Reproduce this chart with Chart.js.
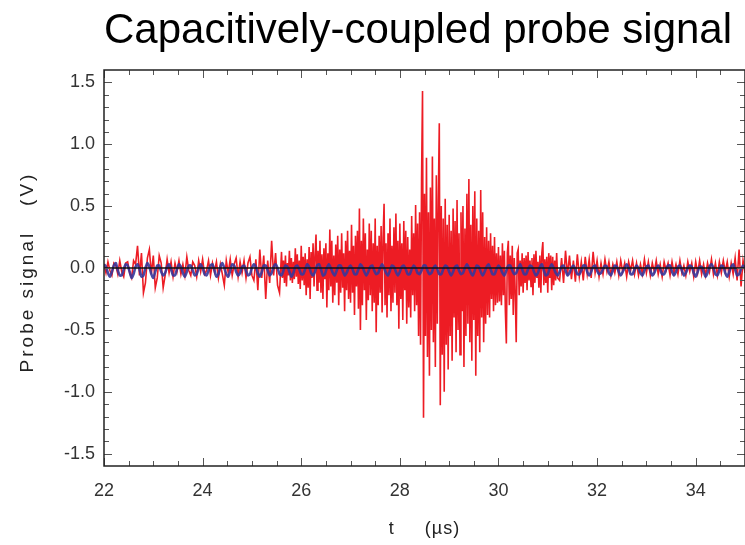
<!DOCTYPE html>
<html>
<head>
<meta charset="utf-8">
<script src="https://cdn.jsdelivr.net/npm/chart.js@4.4.1/dist/chart.umd.min.js"></script>
<style>
  html, body { margin: 0; padding: 0; background: #fff; }
  #wrap { width: 745px; height: 545px; }
</style>
</head>
<body>
<div id="wrap"><canvas id="probe-chart" width="745" height="545"></canvas></div>
<script>
// sample grids of the scope trace (µs)
const COARSE_STEP = 0.04;
const FINE_STEP = 0.02;
const LEFT_START = 22;     // quiet part before the burst
const BURST_START = 25.6;  // burst, sampled finer
const RIGHT_START = 31.24; // quiet part after the burst

const xTicks = [22, 24, 26, 28, 30, 32, 34];
const yTicks = [-1.5, -1.0, -0.5, 0.0, 0.5, 1.0, 1.5];

// raw probe signal (V)
const probeLeft = [
  0.03, -0.04, 0.05, -0.02, -0.06, 0.04, 0.02, -0.05, 0.06, -0.03,
  -0.07, 0.04, 0.05, -0.04, -0.08, 0.06, 0.03, 0.18, -0.06, 0.12,
  -0.20, -0.12, 0.08, 0.15, -0.05, 0.10, -0.16, -0.08, 0.10, 0.04,
  -0.16, -0.06, 0.07, -0.04, 0.05, -0.07, 0.04, -0.03, 0.06, -0.05,
  0.03, -0.06, 0.09, -0.02, -0.06, 0.05, 0.02, -0.07, 0.06, -0.03,
  0.07, -0.05, -0.02, 0.06, -0.06, 0.04, -0.03, 0.05, -0.08, 0.03,
  -0.05, -0.14, 0.06, -0.04, 0.07, -0.06, 0.03, 0.08, -0.07, 0.05,
  -0.04, 0.06, -0.08, 0.04, 0.09, -0.06, -0.10, 0.07, -0.18, 0.15,
  -0.08, 0.10, -0.25, 0.06, -0.12, 0.22, -0.06, 0.12, -0.14, -0.20
];

const probeBurst = [
  0.13, -0.08, 0.06, -0.12, 0.10, -0.15, 0.04, -0.06, 0.14, -0.10,
  0.08, -0.12, 0.05, -0.09, 0.16, -0.07, 0.11, -0.13, 0.06, -0.17,
  0.18, -0.10, 0.09, -0.14, 0.12, -0.22, 0.07, -0.16, 0.17, -0.25,
  0.13, -0.08, 0.20, -0.15, 0.10, 0.27, -0.18, 0.14, -0.12, 0.22,
  -0.20, 0.11, -0.25, 0.16, -0.09, 0.20, -0.32, 0.12, -0.18, 0.31,
  -0.15, 0.22, -0.28, 0.10, -0.22, 0.19, -0.12, 0.26, -0.30, 0.15,
  -0.20, 0.28, -0.16, 0.12, -0.35, 0.22, -0.18, 0.30, -0.25, 0.14,
  -0.28, 0.35, -0.20, 0.18, -0.38, 0.26, -0.15, 0.30, -0.33, 0.48,
  -0.50, 0.22, -0.30, 0.40, -0.18, 0.28, -0.42, 0.15, -0.26, 0.36,
  -0.22, 0.30, -0.35, 0.20, -0.28, 0.40, -0.52, 0.18, -0.30, 0.26,
  -0.20, 0.34, -0.36, 0.25, 0.52, -0.30, 0.20, -0.40, 0.28, -0.22,
  0.40, -0.35, 0.18, -0.28, 0.33, -0.20, 0.44, -0.30, 0.22, -0.49,
  0.36, -0.25, 0.20, -0.42, 0.38, -0.18, 0.30, -0.45, 0.25, -0.32,
  0.15, -0.40, 0.42, -0.22, 0.28, -0.35, 0.51, -0.30, 0.36, -0.55,
  0.45, -0.62, 0.70, 1.43, -1.21, 0.60, -0.55, 0.89, -0.72, 0.45,
  -0.87, 0.65, -0.50, 0.90, -0.60, 0.40, -0.80, 0.75, -0.45, 0.55,
  1.17, -1.11, 0.50, -0.70, 0.40, -1.00, 0.56, -0.62, 0.35, -0.82,
  0.43, -0.55, 0.30, -0.75, 0.48, -0.40, 0.38, -0.68, 0.55, -0.50,
  0.28, -0.70, 0.45, -0.35, 0.50, -0.80, 0.32, -0.55, 0.60, -0.45,
  0.72, -0.60, 0.35, -0.75, 0.50, -0.42, 0.62, -0.87, 0.40, -0.55,
  0.30, -0.68, 0.63, -0.40, 0.45, -0.60, 0.25, -0.45, 0.33, -0.38,
  0.22, -0.40, 0.28, -0.25, 0.18, -0.35, 0.25, -0.30, 0.12, -0.28,
  0.17, -0.27, 0.10, -0.30, 0.20, -0.22, 0.14, -0.35, -0.61, 0.12,
  0.22, -0.30, 0.10, -0.25, 0.18, -0.38, 0.08, -0.20, -0.60, 0.12,
  0.15, -0.22, 0.06, -0.15, 0.12, -0.20, 0.08, -0.12, 0.10, -0.18,
  0.13, -0.10, 0.06, -0.15, 0.08, -0.22, 0.11, -0.12, 0.14, -0.08,
  0.05, -0.16, 0.10, -0.20, 0.12, 0.21, -0.14, 0.07, -0.12, 0.09,
  -0.20, 0.12, -0.08, 0.10, -0.18, 0.09, -0.14, 0.06, -0.10, 0.12,
  -0.08
];

const probeRight = [
  -0.10, 0.08, -0.12, 0.14, -0.06, 0.10, -0.09, 0.06, -0.11,
  0.11, -0.07, 0.05, -0.10, 0.09, -0.05, 0.07, -0.08, 0.13, -0.04,
  0.06, -0.07, 0.04, -0.05, 0.07, -0.03, 0.05, -0.06, 0.03, -0.04,
  0.05, -0.06, 0.06, -0.03, 0.04, -0.07, 0.05, -0.02, 0.06, -0.05,
  0.04, -0.06, 0.03, -0.05, 0.07, -0.04, 0.05, -0.06, 0.04, -0.03,
  0.06, -0.05, 0.03, -0.07, 0.05, -0.02, 0.04, -0.06, 0.05, -0.04,
  0.03, -0.05, 0.06, -0.04, 0.02, -0.06, 0.05, -0.03, 0.04, -0.07,
  0.05, -0.04, 0.06, -0.05, 0.03, -0.06, 0.04, -0.03, 0.07, -0.05,
  0.04, -0.06, 0.05, -0.04, 0.06, -0.03, 0.05, -0.07, 0.04, -0.05,
  0.08, -0.10, 0.15, -0.15, 0.06, -0.04
];

// low-frequency pickup (V), blue trace, on the coarse grid from 22 µs
const pickupSignal = [
  0.03, 0.01, -0.04, -0.07, -0.03, 0.02, 0.04, -0.02, -0.06, -0.06, -0.01,
  0.03, 0.02, -0.03, -0.08, -0.05, 0.01, 0.03, -0.01, -0.07, -0.06, 0.00,
  0.04, 0.01, -0.05, -0.08, -0.03, 0.02, 0.02, -0.03, -0.06, -0.04, 0.01,
  0.03, -0.01, -0.06, -0.06, -0.01, 0.03, 0.01, -0.04, -0.07, -0.03, 0.02,
  0.02, -0.02, -0.06, -0.05, 0.00, 0.03, 0.00, -0.05, -0.06, -0.02, 0.02,
  0.03, -0.02, -0.07, -0.05, 0.01, 0.04, 0.00, -0.05, -0.07, -0.02, 0.03,
  0.02, -0.03, -0.06, -0.04, 0.01, 0.02, -0.02, -0.06, -0.05, 0.00, 0.03,
  0.01, -0.04, -0.07, -0.03, 0.02, 0.02, -0.02, -0.06, -0.04, 0.01, 0.03,
  0.00, -0.05, -0.06, -0.02, 0.02, 0.01, -0.03, -0.07, -0.04, 0.01, 0.02,
  -0.01, -0.05, -0.05, -0.01, 0.03, 0.01, -0.04, -0.06, -0.03, 0.02, 0.03,
  -0.01, -0.06, -0.05, 0.00, 0.03, 0.00, -0.04, -0.06, -0.02, 0.02, 0.02,
  -0.02, -0.06, -0.04, 0.00, 0.02, -0.01, -0.05, -0.05, -0.01, 0.03, 0.01,
  -0.03, -0.06, -0.03, 0.01, 0.02, -0.02, -0.05, -0.04, 0.00, 0.03, 0.00,
  -0.04, -0.06, -0.02, 0.02, 0.01, -0.03, -0.06, -0.03, 0.01, 0.02, -0.01,
  -0.05, -0.05, -0.01, 0.02, 0.00, -0.04, -0.05, -0.02, 0.02, 0.02, -0.02,
  -0.05, -0.04, 0.00, 0.02, -0.01, -0.05, -0.05, -0.01, 0.02, 0.01, -0.03,
  -0.06, -0.03, 0.01, 0.02, -0.02, -0.05, -0.04, 0.00, 0.03, 0.00, -0.04,
  -0.06, -0.02, 0.02, 0.01, -0.03, -0.06, -0.03, 0.01, 0.03, -0.01, -0.05,
  -0.05, -0.01, 0.02, 0.00, -0.04, -0.06, -0.02, 0.02, 0.02, -0.02, -0.05,
  -0.04, 0.00, 0.03, -0.01, -0.05, -0.05, -0.01, 0.02, 0.01, -0.03, -0.06,
  -0.04, 0.01, 0.03, -0.02, -0.06, -0.05, 0.00, 0.03, 0.00, -0.04, -0.06,
  -0.03, 0.01, 0.02, -0.02, -0.06, -0.04, 0.00, 0.02, -0.01, -0.05, -0.05,
  -0.02, 0.02, 0.02, -0.03, -0.06, -0.03, 0.01, 0.02, -0.02, -0.05, -0.04,
  -0.01, 0.02, 0.01, -0.04, -0.06, -0.02, 0.02, 0.01, -0.03, -0.06, -0.03,
  0.00, 0.03, 0.00, -0.05, -0.05, -0.01, 0.02, 0.00, -0.04, -0.06, -0.02,
  0.01, 0.02, -0.02, -0.06, -0.04, 0.00, 0.02, -0.01, -0.05, -0.05, -0.01,
  0.02, 0.02, -0.03, -0.06, -0.03, 0.01, 0.02, -0.02, -0.06, -0.04, 0.00,
  0.02, 0.01, -0.04, -0.07, -0.03, 0.01, 0.01, -0.03, -0.07, -0.04, 0.01,
  0.03, 0.00, -0.05, -0.06, -0.02, 0.02, 0.01, -0.04, -0.07, -0.03, 0.01,
  0.03, -0.01, -0.06, -0.05, -0.01, 0.02, 0.00
];

function toPoints(values, start, step) {
  return values.map((v, i) => ({ x: +(start + i * step).toFixed(3), y: v }));
}

const probePoints = [
  ...toPoints(probeLeft, LEFT_START, COARSE_STEP),
  ...toPoints(probeBurst, BURST_START, FINE_STEP),
  ...toPoints(probeRight, RIGHT_START, COARSE_STEP)
];

const FONT = '"Liberation Sans", Arial, sans-serif';

// frame, inward ticks, zero line and axis titles
const framePlugin = {
  id: 'frame',
  afterDatasetsDraw(chart) {
    const { ctx, chartArea: a, scales } = chart;
    const xs = scales.x, ys = scales.y;
    ctx.save();

    // zero line
    const y0 = ys.getPixelForValue(0);
    ctx.strokeStyle = '#111';
    ctx.lineWidth = 1.5;
    ctx.beginPath();
    ctx.moveTo(a.left, y0);
    ctx.lineTo(a.right, y0);
    ctx.stroke();

    // ticks
    ctx.strokeStyle = '#555';
    ctx.lineWidth = 1;
    ctx.beginPath();
    for (let k = 0; k <= 26; k++) {
      const v = 22 + k * 0.5;
      const px = Math.round(xs.getPixelForValue(v)) + 0.5;
      const len = (k % 4 === 0) ? 8 : 5;
      ctx.moveTo(px, a.bottom); ctx.lineTo(px, a.bottom - len);
      ctx.moveTo(px, a.top); ctx.lineTo(px, a.top + len);
    }
    for (let k = -15; k <= 15; k++) {
      const py = Math.round(ys.getPixelForValue(k / 10)) + 0.5;
      const len = (k % 5 === 0) ? 8 : 5;
      ctx.moveTo(a.left, py); ctx.lineTo(a.left + len, py);
      ctx.moveTo(a.right, py); ctx.lineTo(a.right - len, py);
    }
    ctx.stroke();

    // box
    ctx.strokeStyle = '#222';
    ctx.lineWidth = 1.5;
    ctx.strokeRect(a.left, a.top, a.right - a.left, a.bottom - a.top);
    ctx.restore();

    // axis titles
    ctx.save();
    ctx.fillStyle = '#222';
    ctx.textAlign = 'center';
    ctx.textBaseline = 'middle';
    ctx.font = '18px ' + FONT;
    ctx.letterSpacing = '1px';
    ctx.fillText('t     (\u00b5s)', (a.left + a.right) / 2, 529);
    ctx.translate(28, (a.top + a.bottom) / 2 + 4);
    ctx.rotate(-Math.PI / 2);
    ctx.font = '19px ' + FONT;
    ctx.letterSpacing = '3px';
    ctx.fillText('Probe signal   (V)', 0, 0);
    ctx.restore();
  }
};

const ctx = document.getElementById('probe-chart').getContext('2d');
new Chart(ctx, {
  type: 'line',
  data: {
    datasets: [
      {
        label: 'pickup',
        data: toPoints(pickupSignal, LEFT_START, COARSE_STEP),
        borderColor: 'rgba(55, 55, 155, 0.9)',
        borderWidth: 2.6,
        pointRadius: 0,
        tension: 0.2,
        order: 1
      },
      {
        label: 'probe',
        data: probePoints,
        borderColor: 'rgb(237, 28, 36)',
        borderWidth: 1.6,
        pointRadius: 0,
        tension: 0,
        order: 2
      }
    ]
  },
  options: {
    responsive: false,
    animation: false,
    layout: { padding: { left: 0, right: 0, top: 0, bottom: 0 } },
    plugins: {
      legend: { display: false },
      tooltip: { enabled: false },
      title: {
        display: true,
        text: 'Capacitively-coupled probe signal',
        fullSize: false,
        align: 'start',
        color: '#000',
        font: { family: FONT, size: 42, weight: 'normal', lineHeight: 1.2 },
        padding: { top: 6, bottom: 13.6 }
      }
    },
    scales: {
      x: {
        type: 'linear',
        min: 22,
        max: 35,
        grid: { display: false, drawTicks: false },
        border: { display: false },
        afterBuildTicks: s => { s.ticks = xTicks.map(v => ({ value: v })); },
        afterFit: s => { s.height = 79; },
        ticks: {
          padding: 14,
          color: '#333',
          font: { family: FONT, size: 18 },
          maxRotation: 0,
          callback: v => String(v)
        }
      },
      y: {
        min: -1.6,
        max: 1.6,
        grid: { display: false, drawTicks: false },
        border: { display: false },
        afterBuildTicks: s => { s.ticks = yTicks.map(v => ({ value: v })); },
        afterFit: s => { s.width = 104; },
        ticks: {
          padding: 9,
          color: '#333',
          font: { family: FONT, size: 18 },
          callback: v => Number(v).toFixed(1)
        }
      }
    }
  },
  plugins: [framePlugin]
});
</script>
</body>
</html>
